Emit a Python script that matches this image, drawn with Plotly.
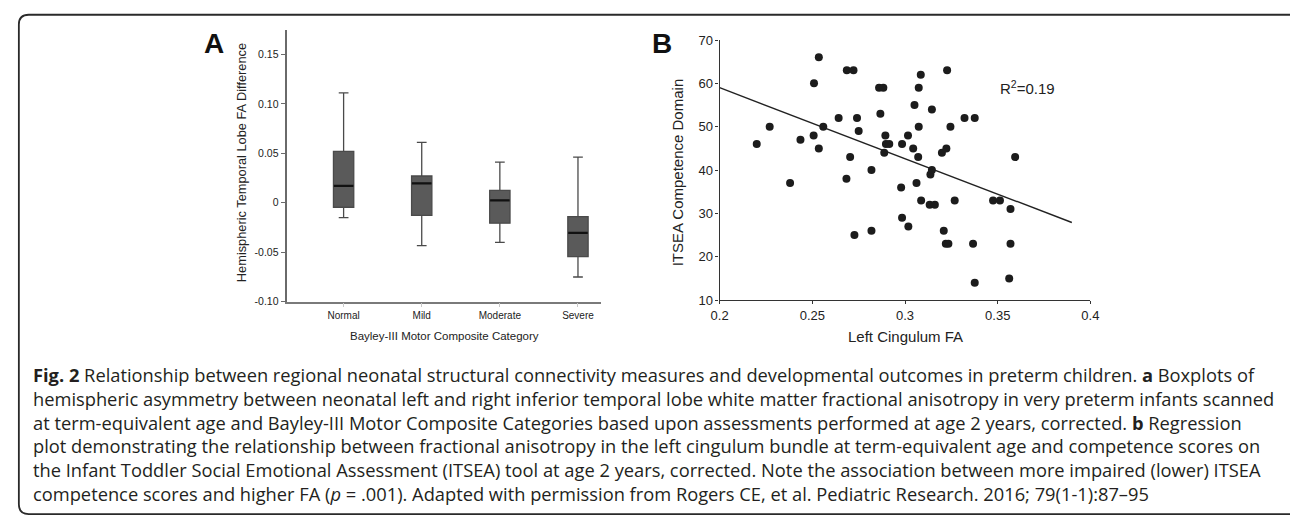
import plotly.graph_objects as go

W, H = 1290, 525

# ---------------- Panel A data (box summary) ----------------
categories = ["Normal", "Mild", "Moderate", "Severe"]
upper_fence = [0.111, 0.061, 0.041, 0.046]
q3_vals = [0.052, 0.027, 0.0125, -0.014]
median_vals = [0.017, 0.0195, 0.0023, -0.0305]
q1_vals = [-0.0046, -0.0128, -0.0207, -0.0545]
lower_fence = [-0.015, -0.0433, -0.040, -0.0751]
a_ytick_vals = [-0.10, -0.05, 0, 0.05, 0.10, 0.15]
a_ytick_text = ["-0.10", "-0.05", "0", "0.05", "0.10", "0.15"]

# ---------------- Panel B data (scatter) ----------------
fa_x = [0.220, 0.227, 0.238, 0.2436, 0.2507, 0.2509, 0.2535, 0.2535, 0.2559, 0.2642,
        0.2684, 0.2686, 0.2704, 0.2722, 0.2727, 0.2741, 0.2750, 0.2819, 0.2819, 0.2860,
        0.2883, 0.2867, 0.2894, 0.2897, 0.2915, 0.2888, 0.2979, 0.2984, 0.2984, 0.3016,
        0.3018, 0.3044, 0.3051, 0.3062, 0.3071, 0.3074, 0.3074, 0.3085, 0.3087, 0.3133,
        0.3137, 0.3145, 0.3145, 0.3161, 0.3199, 0.3209, 0.3223, 0.3220, 0.3234, 0.3227,
        0.3245, 0.3268, 0.3321, 0.3367, 0.3376, 0.3376, 0.3475, 0.3512, 0.3569, 0.3569,
        0.3562, 0.3594]
itsea_y = [46, 50, 37, 47, 48, 60, 45, 66, 50, 52,
           38, 63, 43, 63, 25, 52, 49, 40, 26, 59,
           59, 53, 48, 46, 46, 44, 36, 46, 29, 48,
           27, 45, 55, 37, 43, 59, 50, 62, 33, 32,
           39, 40, 54, 32, 44, 26, 45, 23, 23, 63,
           50, 33, 52, 23, 52, 14, 33, 33, 31, 23,
           15, 43]
fit_x = [0.2, 0.39]
fit_y = [59.0, 27.9]
b_xtick_vals = [0.2, 0.25, 0.3, 0.35, 0.4]
b_xtick_text = ["0.2", "0.25", "0.3", "0.35", "0.4"]
b_ytick_vals = [10, 20, 30, 40, 50, 60, 70]

caption_lines = [
    "<b>Fig. 2</b> Relationship between regional neonatal structural connectivity measures and developmental outcomes in preterm children. <b>a</b> Boxplots of",
    "hemispheric asymmetry between neonatal left and right inferior temporal lobe white matter fractional anisotropy in very preterm infants scanned",
    "at term-equivalent age and Bayley-III Motor Composite Categories based upon assessments performed at age 2 years, corrected. <b>b</b> Regression",
    "plot demonstrating the relationship between fractional anisotropy in the left cingulum bundle at term-equivalent age and competence scores on",
    "the Infant Toddler Social Emotional Assessment (ITSEA) tool at age 2 years, corrected. Note the association between more impaired (lower) ITSEA",
    "competence scores and higher FA (<i>p</i> = .001). Adapted with permission from Rogers CE, et al. Pediatric Research. 2016; 79(1-1):87–95",
]


def px(x):
    return x / W


def py(y):
    return 1 - y / H


PLOT_FONT = "Liberation Sans, Arial, sans-serif"
CAP_FONT = "Open Sans, sans-serif"

fig = go.Figure()

# ---- Panel A ----
pos = list(range(len(categories)))
fig.add_trace(go.Box(
    x=pos, q1=q1_vals, median=median_vals, q3=q3_vals,
    lowerfence=lower_fence, upperfence=upper_fence,
    width=0.26, whiskerwidth=0.48,
    fillcolor="#5a5a5a", line=dict(color="#4a4a4a", width=1.3),
    boxpoints=False, showlegend=False, hoverinfo="skip",
    xaxis="x", yaxis="y",
))
mx, my = [], []
for p, m in zip(pos, median_vals):
    mx += [p - 0.125, p + 0.125, None]
    my += [m, m, None]
fig.add_trace(go.Scatter(x=mx, y=my, mode="lines", line=dict(color="#111111", width=2.2),
                         showlegend=False, hoverinfo="skip", xaxis="x", yaxis="y"))

# ---- Panel B ----
fig.add_trace(go.Scatter(x=fit_x, y=fit_y, mode="lines", line=dict(color="#222222", width=1.4),
                         showlegend=False, hoverinfo="skip", xaxis="x2", yaxis="y2"))
fig.add_trace(go.Scatter(x=fa_x, y=itsea_y, mode="markers",
                         marker=dict(size=8, color="#1c1c1c"),
                         showlegend=False, hoverinfo="skip", xaxis="x2", yaxis="y2"))

fig.update_layout(
    width=W, height=H,
    margin=dict(l=0, r=0, t=0, b=0),
    paper_bgcolor="white", plot_bgcolor="white",
    showlegend=False,
    xaxis=dict(domain=[px(282.3), px(600)], range=[-0.72, 3.29],
               tickvals=pos, ticktext=categories, showgrid=False, zeroline=False,
               showline=True, linecolor="#7a7a7a", linewidth=1.5,
               ticks="outside", ticklen=4, tickcolor="#c8c8c8", tickwidth=1,
               tickfont=dict(family=PLOT_FONT, size=10, color="#222"), anchor="y"),
    yaxis=dict(domain=[py(303.3), py(23.3)], range=[-0.10, 0.175],
               tickvals=a_ytick_vals, ticktext=a_ytick_text, showgrid=False, zeroline=False,
               showline=True, linecolor="#6a6a6a", linewidth=1.5,
               ticks="outside", ticklen=5, tickcolor="#6a6a6a",
               tickfont=dict(family=PLOT_FONT, size=10.5, color="#222"), anchor="x"),
    xaxis2=dict(domain=[px(720.7), px(1096.7)], range=[0.2, 0.4],
                tickvals=b_xtick_vals, ticktext=b_xtick_text, showgrid=False, zeroline=False,
                showline=True, linecolor="#333", linewidth=1.3,
                ticks="outside", ticklen=3, tickcolor="#333",
                tickfont=dict(family=PLOT_FONT, size=13, color="#222"), anchor="y2"),
    yaxis2=dict(domain=[py(301.7), py(34)], range=[10, 70],
                tickvals=b_ytick_vals, showgrid=False, zeroline=False,
                showline=True, linecolor="#333", linewidth=1.3,
                ticks="outside", ticklen=3, tickcolor="#333",
                tickfont=dict(family=PLOT_FONT, size=13, color="#222"), anchor="x2"),
)

ann = []
# panel letters
ann.append(dict(text="<b>A</b>", x=px(208), y=py(38), font=dict(family=PLOT_FONT, size=28, color="#111")))
ann.append(dict(text="<b>B</b>", x=px(662), y=py(38), font=dict(family=PLOT_FONT, size=28, color="#111")))
# axis titles
ann.append(dict(text="Hemispheric Temporal Lobe FA Difference", x=px(236), y=py(160), textangle=-90,
                font=dict(family=PLOT_FONT, size=12.8, color="#222")))
ann.append(dict(text="Bayley-III Motor Composite Category", x=px(442), y=py(339),
                font=dict(family=PLOT_FONT, size=11.5, color="#222")))
ann.append(dict(text="ITSEA Competence Domain", x=px(678), y=py(170.7), textangle=-90,
                font=dict(family=PLOT_FONT, size=15, color="#222")))
ann.append(dict(text="Left Cingulum FA", x=px(908.7), y=py(339),
                font=dict(family=PLOT_FONT, size=15, color="#222")))
ann.append(dict(text="R<sup>2</sup>=0.19", x=px(1004), y=py(83), xanchor="left",
                font=dict(family=PLOT_FONT, size=15, color="#222")))
# caption as one multi-line text block
ann.append(dict(text="<br>".join(caption_lines), x=px(23), y=py(439.5), xanchor="left", align="left",
                font=dict(family=CAP_FONT, size=18.3, color="#231f20")))

for a in ann:
    a.setdefault("xanchor", "center")
    a["yanchor"] = "middle"
    a["xref"] = "paper"
    a["yref"] = "paper"
    a["showarrow"] = False
    a["borderpad"] = 0
fig.update_layout(annotations=ann)

# rounded frame
x0, x1, y0, y1, r = 10, 1300, 8, 522, 10
path = (f"M {px(x0 + r)},{py(y0)} L {px(x1)},{py(y0)} "
        f"M {px(x1)},{py(y1)} L {px(x0 + r)},{py(y1)} "
        f"Q {px(x0)},{py(y1)} {px(x0)},{py(y1 - r)} "
        f"L {px(x0)},{py(y0 + r)} Q {px(x0)},{py(y0)} {px(x0 + r)},{py(y0)}")
fig.add_shape(type="path", path=path, xref="paper", yref="paper",
              line=dict(color="#2a2a2a", width=1.8))

fig.write_html("out.html", config={"displayModeBar": False},
               post_script="document.body.style.margin='0';document.body.style.overflow='hidden';")
